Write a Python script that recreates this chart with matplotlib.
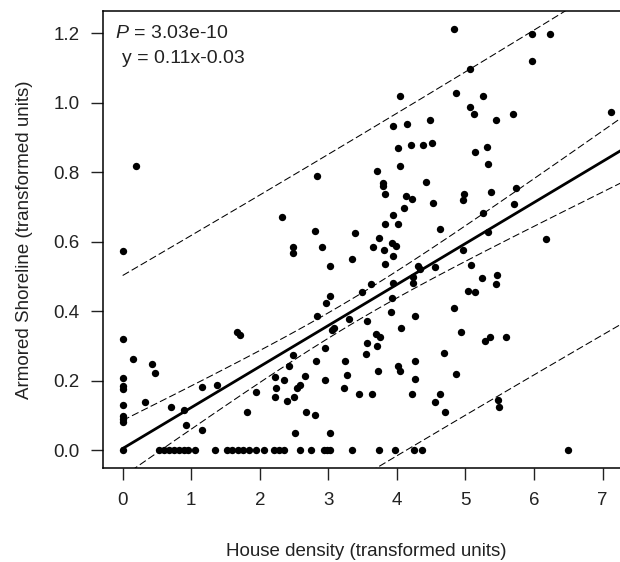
import numpy as np
import matplotlib
matplotlib.use("Agg")
import matplotlib.pyplot as plt

plt.rcParams['font.family'] = ['Liberation Sans', 'DejaVu Sans']
plt.rcParams['mathtext.fontset'] = 'custom'
plt.rcParams['mathtext.it'] = 'Liberation Sans:italic'
plt.rcParams['mathtext.rm'] = 'Liberation Sans'

# points lying on zero armored shoreline
zero_density = [0, 0.53, 0.60, 0.67, 0.75, 0.82, 0.89, 0.96, 1.05, 1.35, 1.52, 1.60,
                1.68, 1.76, 1.84, 1.94, 2.06, 2.20, 2.28, 2.36, 2.58, 2.74, 2.94, 2.98,
                3.02, 3.35, 3.74, 3.97, 4.25, 4.36, 6.50]

# non-zero points (house density, armored shoreline)
pos_density = [
    0.19, 0.01, 0.01, 0.15, 0.43, 0.47, 0.0, 0.0, 0.0, 0.0, 0.0, 0.0, 0.0, 0.32, 0.71,
    0.89, 0.93, 1.15, 1.16, 1.37, 1.67, 1.71, 1.82, 1.94, 2.22, 2.24, 2.22, 2.32, 2.84,
    3.71, 4.05, 3.79, 3.79, 4.42, 3.83, 4.13, 4.22, 4.52, 4.11, 3.95, 3.83, 4.01, 4.63,
    2.80, 3.39, 3.74, 2.48, 2.48, 2.91, 3.65, 3.81, 3.93, 3.99, 3.94, 3.35, 3.03, 3.83,
    4.31, 4.34, 4.55, 4.23, 4.24, 3.94, 3.62, 3.49, 3.02, 2.96, 3.93, 3.92, 4.27, 2.84,
    3.30, 3.56, 4.06, 3.06, 3.08, 3.69, 3.76, 3.57, 3.71, 3.55, 4.69, 2.48, 2.95, 2.82,
    3.25, 4.27, 2.42, 4.02, 4.04, 3.72, 3.27, 2.66, 2.35, 2.95, 4.27, 2.58, 2.55, 3.23,
    2.50, 2.40, 3.45, 3.64, 4.22, 4.55, 4.63, 4.70, 2.68, 2.80, 2.52, 3.03, 4.84, 4.94,
    5.28, 5.36, 5.59, 4.86, 5.48, 5.49, 4.05, 3.94, 4.15, 4.49, 4.01, 4.20, 4.38, 4.51,
    4.84, 5.97, 6.23, 5.97, 5.07, 4.86, 5.26, 5.07, 5.12, 5.44, 5.69, 7.12, 5.14, 5.32,
    5.33, 4.98, 4.96, 5.37, 5.74, 5.71, 5.26, 5.33, 4.96, 6.18, 5.08, 5.24, 5.46, 5.44,
    5.04, 5.14]
pos_shoreline = [
    0.817, 0.573, 0.319, 0.264, 0.247, 0.223, 0.208, 0.185, 0.177, 0.131, 0.099, 0.090,
    0.080, 0.139, 0.125, 0.115, 0.072, 0.181, 0.059, 0.187, 0.341, 0.333, 0.110, 0.167,
    0.211, 0.180, 0.153, 0.670, 0.789, 0.803, 0.817, 0.770, 0.760, 0.771, 0.737, 0.733,
    0.722, 0.712, 0.698, 0.678, 0.651, 0.651, 0.636, 0.632, 0.626, 0.611, 0.585, 0.567,
    0.584, 0.584, 0.577, 0.596, 0.589, 0.559, 0.549, 0.531, 0.535, 0.531, 0.522, 0.528,
    0.499, 0.480, 0.482, 0.479, 0.454, 0.445, 0.424, 0.438, 0.399, 0.387, 0.385, 0.379,
    0.371, 0.353, 0.347, 0.353, 0.336, 0.327, 0.309, 0.301, 0.277, 0.281, 0.274, 0.294,
    0.256, 0.256, 0.256, 0.242, 0.243, 0.229, 0.229, 0.218, 0.215, 0.201, 0.201, 0.205,
    0.188, 0.180, 0.180, 0.152, 0.142, 0.163, 0.163, 0.163, 0.139, 0.163, 0.111, 0.111,
    0.101, 0.049, 0.051, 0.410, 0.341, 0.313, 0.327, 0.327, 0.219, 0.144, 0.125, 1.018,
    0.934, 0.938, 0.949, 0.869, 0.879, 0.879, 0.883, 1.213, 1.199, 1.199, 1.119, 1.098,
    1.029, 1.018, 0.987, 0.967, 0.949, 0.967, 0.973, 0.858, 0.872, 0.824, 0.737, 0.719,
    0.744, 0.754, 0.709, 0.682, 0.629, 0.575, 0.609, 0.534, 0.496, 0.504, 0.479, 0.458,
    0.454]

# fitted regression
fit_intercept = 0.005
fit_slope = 0.118
resid_se = 0.249

x_ticks = [0, 1, 2, 3, 4, 5, 6, 7]
y_ticks = [0.0, 0.2, 0.4, 0.6, 0.8, 1.0, 1.2]
p_text = "$P$ = 3.03e-10"
eq_text = "y = 0.11x-0.03"

x = np.array(zero_density + pos_density)
y = np.array([0.0] * len(zero_density) + pos_shoreline)

n = len(x)
xbar = x.mean()
sxx = np.sum((x - xbar) ** 2)
t = 1.973

fig = plt.figure(figsize=(6.2, 5.62), dpi=100)
ax = fig.add_axes([103 / 620, 94 / 562, 527 / 620, 457 / 562])
xlim = (-0.287, 7.40)
ylim = (-0.051, 1.264)
xs = np.linspace(x.min(), xlim[1], 300)
fit = fit_intercept + fit_slope * xs
conf = t * resid_se * np.sqrt(1 / n + (xs - xbar) ** 2 / sxx)
pred = t * resid_se * np.sqrt(1 + 1 / n + (xs - xbar) ** 2 / sxx)

ax.scatter(x, y, s=28, color='black', zorder=3, linewidths=0)
ax.plot(xs, fit, color='black', lw=2.0, zorder=2)
for band in (conf, pred):
    ax.plot(xs, fit + band, color='black', lw=0.75, dashes=(7, 3), zorder=2)
    ax.plot(xs, fit - band, color='black', lw=0.75, dashes=(7, 3), zorder=2)

ax.set_xlim(*xlim)
ax.set_ylim(*ylim)
ax.set_xticks(x_ticks)
ax.set_yticks(y_ticks)
ax.set_xticklabels([str(v) for v in x_ticks], fontsize=13.5)
ax.set_yticklabels([f"{v:.1f}" for v in y_ticks], fontsize=13.5)
ax.tick_params(axis='x', direction='out', length=8.5, width=1, pad=9, colors='#222222')
ax.tick_params(axis='y', direction='out', length=8.5, width=1, pad=8.5, colors='#222222')
for sp in ax.spines.values():
    sp.set_linewidth(1.1)

ax.set_xlabel("House density (transformed units)", fontsize=13.5, color='#222222')
ax.xaxis.set_label_coords(0.5, (468 - 552) / 457)
ax.xaxis.label.set_va('center')
ax.set_ylabel("Armored Shoreline (transformed units)", fontsize=13.5, color='#222222')
ax.yaxis.set_label_coords((25 - 103) / 527, 0.5)
ax.yaxis.label.set_va('center')

ax.text((115 - 103) / 527, (468 - 33.5) / 457, p_text, transform=ax.transAxes,
        fontsize=14, va='center', ha='left', color='#222222')
ax.text((121.5 - 103) / 527, (468 - 58.5) / 457, eq_text, transform=ax.transAxes,
        fontsize=14, va='center', ha='left', color='#222222')

fig.savefig("out.png", dpi=100)
